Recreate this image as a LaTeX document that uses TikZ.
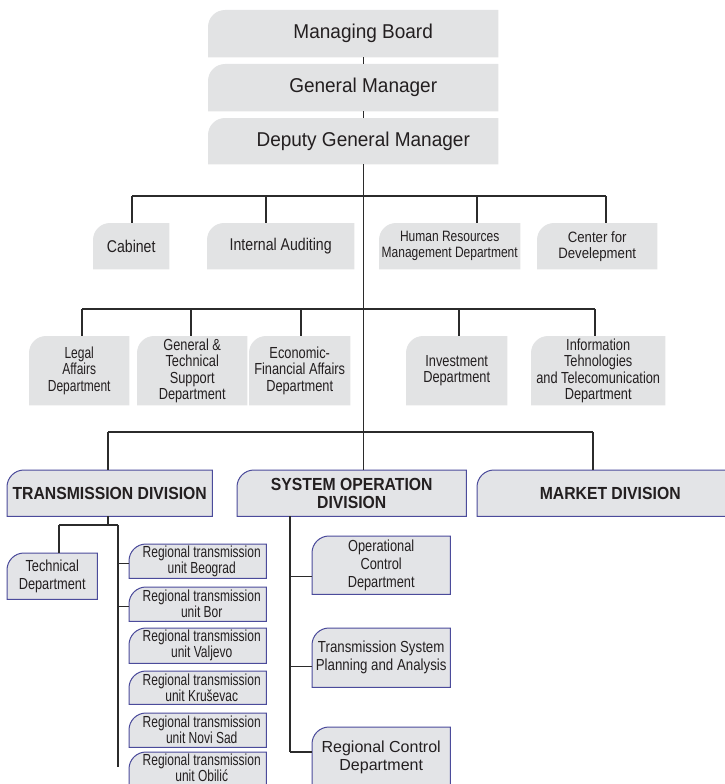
\documentclass[tikz,border=0pt]{standalone}
\usepackage{fontspec}
\setmainfont{Liberation Sans}
\newfontfamily\sA[FakeStretch=0.75]{Liberation Sans}
\newfontfamily\sB[FakeStretch=0.8]{Liberation Sans}
\newfontfamily\sC[FakeStretch=0.83]{Liberation Sans}
\newfontfamily\sD[FakeStretch=0.88]{Liberation Sans}
\newfontfamily\sE[FakeStretch=0.9]{Liberation Sans}
\newfontfamily\sF[FakeStretch=0.95]{Liberation Sans}
\usetikzlibrary{backgrounds}
\definecolor{boxfill}{HTML}{E2E3E4}
\definecolor{divfill}{HTML}{E3E4E7}
\definecolor{divline}{HTML}{4B4B9B}
\definecolor{ink}{HTML}{231F20}
\definecolor{lineclr}{HTML}{2B2B2B}
% #1 node, #2 style, #3 extra on the left, #4 extra at the bottom
\newcommand\obx[4]{\path[#2] ([xshift=-#3pt,yshift=-#4pt]#1.south west) -- ([xshift=-#3pt,yshift=-17pt]#1.north west) .. controls ([xshift=-#3pt,yshift=-7.6pt]#1.north west) and ([xshift={7.6pt-#3pt}]#1.north west) .. ([xshift={17pt-#3pt}]#1.north west) -- (#1.north east) -- ([yshift=-#4pt]#1.south east) -- cycle;}
\begin{document}
\begin{tikzpicture}[x=1pt,y=-1pt,
  bx/.style={inner sep=0pt, anchor=north west, align=center, text=ink},
  wh/.style 2 args={minimum width=#1pt, minimum height=#2pt},
  fs/.style n args={3}{font={#3\fontsize{#1}{#2}\selectfont}},
  conn/.style={draw=lineclr, line width=1.1pt},
  gfill/.style={fill=boxfill},
  dfill/.style={fill=divfill, draw=divline, line width=1pt}]
\useasboundingbox (0,0) rectangle (725,784);
\clip (0,0) rectangle (725,784);

% top boxes (drawn 20pt further left than the node, text centred on the trunk)
\node[bx, wh={270}{47}, fs={20}{22}{\sF}] (mb) at (228,10) {Managing Board};
\node[bx, wh={270}{47}, fs={20}{22}{\sF}] (gm) at (228,64) {General Manager};
\node[bx, wh={270}{46}, fs={20}{22}{\sF}] (dgm) at (228,118) {Deputy General Manager};

% row 2
\node[bx, wh={76}{46}, fs={17}{18}{\sC}] (cab) at (93,223) {Cabinet};
\node[bx, wh={147}{46}, fs={17}{18}{\sC}] (ia) at (207,223) {Internal Auditing};
\node[bx, wh={141}{46}, fs={15}{16}{\sB}] (hr) at (379,223) {Human Resources\\Management Department};
\node[bx, wh={120}{46}, fs={15}{16}{\sD}] (cfd) at (537,223) {Center for\\Develepment};

% row 3
\node[bx, wh={100}{69}, fs={16}{16.5}{\sA}] (legal) at (29,336) {Legal\\Affairs\\Department};
\node[bx, wh={110}{69}, fs={16}{16.5}{\sB}] (gts) at (137,336) {General \&\\Technical\\Support\\Department};
\node[bx, wh={101}{69}, fs={16}{16.5}{\sB}] (efa) at (249,336) {Economic-\\Financial Affairs\\Department};
\node[bx, wh={101}{69}, fs={16}{16.5}{\sB}] (inv) at (406,336) {Investment\\Department};
\node[bx, wh={134}{69}, fs={16}{16.5}{\sB}] (it) at (531,336) {Information\\Tehnologies\\and Telecomunication\\Department};

% divisions
\node[bx, wh={205}{46}, fs={17.5}{18}{\sE\bfseries}] (td) at (7,470) {TRANSMISSION DIVISION};
\node[bx, wh={229}{46}, fs={17.5}{18}{\sE\bfseries}] (sod) at (237,470) {SYSTEM OPERATION\\DIVISION};
\node[bx, wh={266}{46}, fs={17.5}{18}{\sE\bfseries}] (md) at (477,470) {MARKET DIVISION};

% transmission division units (regional boxes drawn 8pt further left)
\node[bx, wh={90}{46}, fs={16}{17.5}{\sB}] (tech) at (7,553) {Technical\\Department};
\node[bx, wh={129}{34}, fs={16}{14.3}{\sA}] (beo) at (137,544) {Regional transmission\\unit Beograd};
\node[bx, wh={129}{34}, fs={16}{14.3}{\sA}] (bor) at (137,587) {Regional transmission\\unit Bor};
\node[bx, wh={129}{35}, fs={16}{14.3}{\sA}] (val) at (137,628) {Regional transmission\\unit Valjevo};
\node[bx, wh={129}{33}, fs={16}{14.3}{\sA}] (kru) at (137,671) {Regional transmission\\unit Kruševac};
\node[bx, wh={129}{34}, fs={16}{14.3}{\sA}] (ns) at (137,713) {Regional transmission\\unit Novi Sad};
\node[bx, wh={129}{31}, fs={16}{14.3}{\sA}] (obi) at (137,752) {Regional transmission\\unit Obilić};

% system operation units
\node[bx, wh={138}{58}, fs={16}{18}{\sB}] (ocd) at (312,536) {Operational\\Control\\Department};
\node[bx, wh={138}{59}, fs={16}{17.7}{\sC}] (tsp) at (312,628) {Transmission System\\Planning and Analysis};
\node[bx, wh={138}{60}, fs={16}{18.3}{\rmfamily}] (rcd) at (312,727) {Regional Control\\Department};

\begin{scope}[on background layer]
  \foreach \n in {mb,gm,dgm}{\obx{\n}{gfill}{20}{0}}
  \foreach \n in {cab,ia,hr,cfd,legal,gts,efa,inv,it}{\obx{\n}{gfill}{0}{0}}
  \foreach \n in {td,sod,md,tech,ocd,tsp}{\obx{\n}{dfill}{0}{0}}
  \foreach \n in {beo,bor,val,kru,ns}{\obx{\n}{dfill}{8}{0}}
  \obx{obi}{dfill}{8}{8}
  \obx{rcd}{dfill}{0}{8}
\end{scope}

% top trunk
\draw[conn] (mb) -- (gm);
\draw[conn] (gm) -- (dgm);
\draw[conn] (dgm.south) -- (dgm.south |- sod.north);

% row 2 bus
\coordinate (r2a) at (132,196);
\coordinate (r2b) at (266,196);
\coordinate (r2c) at (477,196);
\coordinate (r2d) at (606,196);
\draw[conn] (r2a) -- (r2d);
\draw[conn] (r2a) -- (r2a |- cab.north);
\draw[conn] (r2b) -- (r2b |- ia.north);
\draw[conn] (r2c) -- (r2c |- hr.north);
\draw[conn] (r2d) -- (r2d |- cfd.north);

% row 3 bus
\coordinate (r3a) at (82,309);
\coordinate (r3b) at (191,309);
\coordinate (r3c) at (301,309);
\coordinate (r3d) at (459,309);
\coordinate (r3e) at (595,309);
\draw[conn] (r3a) -- (r3e);
\draw[conn] (r3a) -- (r3a |- legal.north);
\draw[conn] (r3b) -- (r3b |- gts.north);
\draw[conn] (r3c) -- (r3c |- efa.north);
\draw[conn] (r3d) -- (r3d |- inv.north);
\draw[conn] (r3e) -- (r3e |- it.north);

% division bus
\coordinate (r4a) at (108,432);
\coordinate (r4b) at (593,432);
\draw[conn] (r4a) -- (r4b);
\draw[conn] (r4a) -- (r4a |- td.north);
\draw[conn] (r4b) -- (r4b |- md.north);

% transmission division tree
\coordinate (t1) at (108,525);
\coordinate (t2) at (59,525);
\coordinate (t3) at (118,525);
\coordinate (t4) at (118,767);
\draw[conn] (td.south -| t1) -- (t1);
\draw[conn] (t2) -- (t3);
\draw[conn] (t2) -- (t2 |- tech.north);
\draw[conn] (t3) -- (t4);
\draw[conn] ([yshift=-2pt]beo.west -| t3) -- ([xshift=-8pt,yshift=-2pt]beo.west);
\draw[conn] ([yshift=-2pt]bor.west -| t3) -- ([xshift=-8pt,yshift=-2pt]bor.west);

% system operation tree
\coordinate (s1) at (290,516);
\coordinate (s2) at (290,752);
\draw[conn] (s1) -- (s2);
\draw[conn] ([yshift=-11pt]ocd.west -| s1) -- ([yshift=-11pt]ocd.west);
\draw[conn] ([yshift=-8.5pt]tsp.west -| s1) -- ([yshift=-8.5pt]tsp.west);
\draw[conn] (s2) -- (s2 -| rcd.west);
\end{tikzpicture}
\end{document}
